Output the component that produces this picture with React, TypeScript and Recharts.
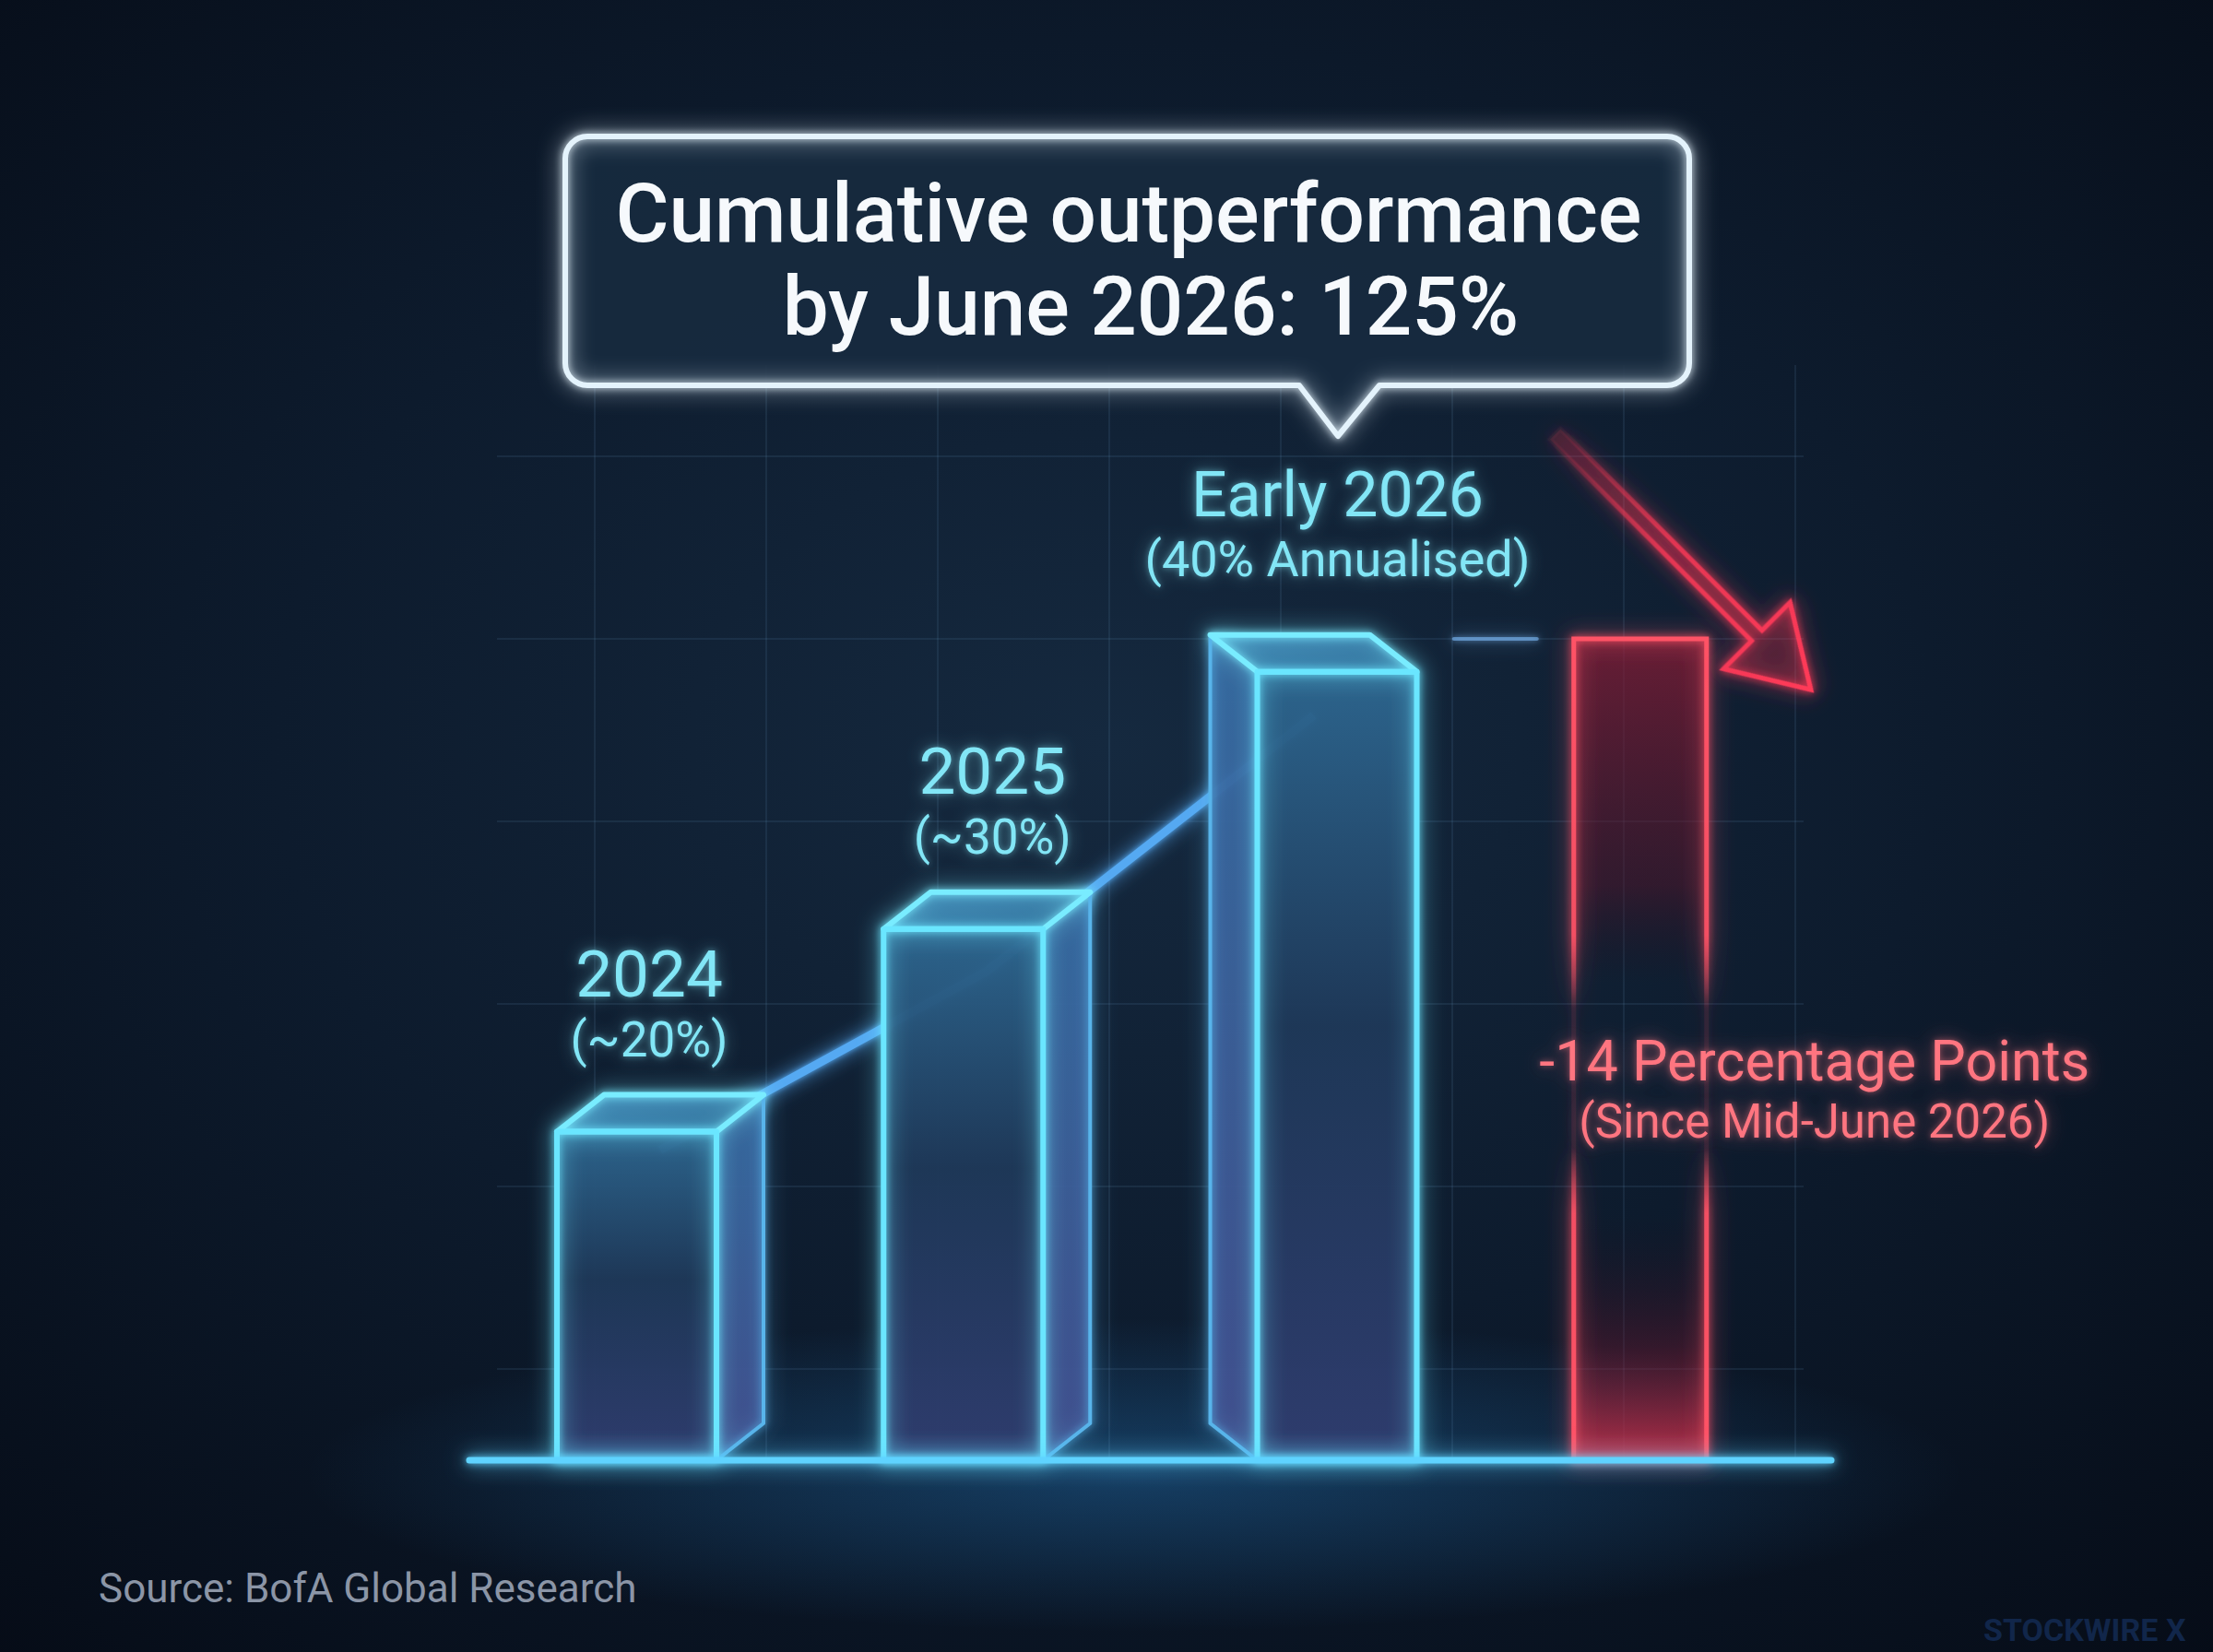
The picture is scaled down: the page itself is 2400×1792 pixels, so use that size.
import React from 'react';
import { ComposedChart, Bar, Line, XAxis, YAxis, CartesianGrid, ReferenceLine, LabelList } from 'recharts';

// ---------- data ----------
const periods = ['2024', '2025', 'Early 2026', 'Mid-June 2026'];
const headline = ['2024', '2025', 'Early 2026', '-14 Percentage Points'];
const subline = ['(~20%)', '(~30%)', '(40% Annualised)', '(Since Mid-June 2026)'];
const barValues = [18, 29.1, 43.2, 45];
const trendValues: (number | null)[] = [17, 26.8, 40.8, null];
const gridTicks = [5, 15, 25, 35, 45, 55];
const titleLines = ['Cumulative outperformance', 'by June 2026: 125%'];
const sourceText = 'Source: BofA Global Research';
const watermarkText = 'STOCKWIRE X';

const data = periods.map((period, i) => ({ period, value: barValues[i], trend: trendValues[i] }));

// ---------- layout / style ----------
const W = 2400;
const H = 1792;
const DX = 51;
const DY = 40;
const FONT = 'Roboto, "Noto Sans", "DejaVu Sans", sans-serif';
const CYAN_TEXT = '#82e6f6';
const RED_TEXT = '#ff7480';

function idxOf(props: any): number {
  if (typeof props.index === 'number') return props.index;
  const p = props.payload && props.payload.period;
  const i = periods.indexOf(p);
  if (i >= 0) return i;
  return barValues.indexOf(props.value);
}

function pts(arr: number[][]) {
  return arr.map((p) => p.join(',')).join(' ');
}

function Bar3D(props: any) {
  const { x, y, width, height } = props;
  if (x == null || y == null || !isFinite(height)) return null;
  const index = idxOf(props);
  const bottom = y + height;

  if (index === 3) {
    const cx = x + width / 2;
    const rw = 144;
    const rx = cx - rw / 2;
    return (
      <g>
        <line x1={rx - 130} x2={rx - 40} y1={y} y2={y} stroke="#7fc0ff" strokeWidth={4} strokeOpacity={0.55} strokeLinecap="round" filter="url(#glowBlue)" />
        <rect x={rx} y={y} width={rw} height={height} fill="url(#redFill)" />
        <rect x={rx} y={y} width={rw} height={height} fill="none" stroke="url(#redStroke)" strokeWidth={5} filter="url(#glowRed)" />
        <g transform={`translate(${cx - 92}, ${y - 222}) rotate(45)`}>
          <polygon
            points="0,-8 309,-8 309,-51 392,0 309,51 309,8 0,8"
            fill="rgba(255,40,70,0.10)"
            stroke="url(#arrowStroke)"
            strokeWidth={5}
            strokeLinejoin="miter"
            filter="url(#glowRed)"
          />
        </g>
      </g>
    );
  }

  const left = index === 2;
  const fw = width - DX;
  const fx = left ? x + DX : x;
  let top: number[][];
  let side: number[][];
  if (!left) {
    top = [[fx, y], [fx + fw, y], [fx + fw + DX, y - DY], [fx + DX, y - DY]];
    side = [[fx + fw, y], [fx + fw + DX, y - DY], [fx + fw + DX, bottom - DY], [fx + fw, bottom]];
  } else {
    top = [[fx, y], [fx + fw, y], [fx + fw - DX, y - DY], [fx - DX, y - DY]];
    side = [[fx, y], [fx - DX, y - DY], [fx - DX, bottom - DY], [fx, bottom]];
  }
  return (
    <g>
      <polygon points={pts(side)} fill="url(#sideFill)" />
      <polygon points={pts(top)} fill="url(#topFill)" />
      <rect x={fx} y={y} width={fw} height={height} fill="url(#frontFill)" />
      <g filter="url(#glowCyan)" fill="none" strokeLinejoin="round">
        <polygon points={pts(side)} stroke="#58b4ea" strokeWidth={4} />
        <polygon points={pts(top)} stroke="#79ecff" strokeWidth={6} />
        <rect x={fx} y={y} width={fw} height={height} stroke="#6ae6ff" strokeWidth={6} />
      </g>
    </g>
  );
}

function BarLabel(props: any) {
  const { x, y, width, height } = props;
  if (x == null || y == null) return null;
  const index = idxOf(props);
  const cx = x + width / 2;
  if (index === 3) {
    const mid = y + height / 2;
    return (
      <g filter="url(#glowRedText)" fontFamily={FONT} textAnchor="middle" fill={RED_TEXT}>
        <text x={cx + 189} y={mid + 33} fontSize={61}>{headline[3]}</text>
        <text x={cx + 189} y={mid + 95} fontSize={51}>{subline[3]}</text>
      </g>
    );
  }
  const lift = index === 2 ? 22 : 0;
  const lx = cx + (index === 2 ? 26 : index === 0 ? -12 : 6);
  return (
    <g filter="url(#glowText)" fontFamily={FONT} textAnchor="middle" fill={CYAN_TEXT}>
      <text x={lx} y={y - 147 - lift} fontSize={index === 2 ? 68 : 71}>{headline[index]}</text>
      <text x={lx} y={y - 82 - lift} fontSize={index === 2 ? 54 : 53}>{subline[index]}</text>
    </g>
  );
}

function Baseline(props: any) {
  const { x1, y1, x2, y2 } = props;
  if (x1 == null) return null;
  return (
    <line x1={x1 - 30} y1={y1} x2={x2 + 30} y2={y2} stroke="#5fd3ff" strokeWidth={7} strokeLinecap="round" filter="url(#glowCyan)" />
  );
}

function Defs() {
  const glow = (id: string, s1: number, s2: number, a: number = 1) => (
    <filter id={id} filterUnits="userSpaceOnUse" x={-600} y={-600} width={3600} height={3000}>
      <feGaussianBlur in="SourceGraphic" stdDeviation={s1} result="b1" />
      <feComponentTransfer in="b1" result="b1a">
        <feFuncA type="linear" slope={a} />
      </feComponentTransfer>
      <feGaussianBlur in="SourceGraphic" stdDeviation={s2} result="b2" />
      <feComponentTransfer in="b2" result="b2a">
        <feFuncA type="linear" slope={a} />
      </feComponentTransfer>
      <feMerge>
        <feMergeNode in="b1a" />
        <feMergeNode in="b2a" />
        <feMergeNode in="SourceGraphic" />
      </feMerge>
    </filter>
  );
  return (
    <defs>
      {glow('glowCyan', 12, 4)}
      {glow('glowBlue', 10, 3)}
      {glow('glowRed', 12, 4)}
      {glow('glowWhite', 12, 4)}
      {glow('glowText', 9, 3, 0.45)}
      {glow('glowRedText', 10, 3, 0.5)}
      <radialGradient id="bgGrad" cx="50%" cy="45%" r="75%">
        <stop offset="0" stopColor="#15293f" />
        <stop offset="0.5" stopColor="#0d1b2d" />
        <stop offset="1" stopColor="#060c17" />
      </radialGradient>
      <radialGradient id="floorGlow" cx="50%" cy="50%" r="50%">
        <stop offset="0" stopColor="#2a8fe0" stopOpacity={0.32} />
        <stop offset="1" stopColor="#2a8fe0" stopOpacity={0} />
      </radialGradient>
      <linearGradient id="frontFill" x1="0" y1="0" x2="0" y2="1">
        <stop offset="0" stopColor="#2d668f" stopOpacity={0.97} />
        <stop offset="0.45" stopColor="#1e3858" stopOpacity={0.97} />
        <stop offset="1" stopColor="#2f3c6e" stopOpacity={0.97} />
      </linearGradient>
      <linearGradient id="topFill" x1="0" y1="0" x2="1" y2="1">
        <stop offset="0" stopColor="#3d84b2" />
        <stop offset="1" stopColor="#2c6590" />
      </linearGradient>
      <linearGradient id="sideFill" x1="0" y1="0" x2="0" y2="1">
        <stop offset="0" stopColor="#356aa0" stopOpacity={0.95} />
        <stop offset="1" stopColor="#414c8c" stopOpacity={0.95} />
      </linearGradient>
      <linearGradient id="redFill" x1="0" y1="0" x2="0" y2="1">
        <stop offset="0" stopColor="#8e1c36" stopOpacity={0.7} />
        <stop offset="0.3" stopColor="#5a1328" stopOpacity={0.45} />
        <stop offset="0.42" stopColor="#2a0a18" stopOpacity={0} />
        <stop offset="0.7" stopColor="#2a0a18" stopOpacity={0} />
        <stop offset="0.86" stopColor="#7a1830" stopOpacity={0.35} />
        <stop offset="1" stopColor="#d6304a" stopOpacity={0.85} />
      </linearGradient>
      <linearGradient id="redStroke" x1="0" y1="0" x2="0" y2="1">
        <stop offset="0" stopColor="#ff5266" stopOpacity={1} />
        <stop offset="0.36" stopColor="#ff5266" stopOpacity={0.9} />
        <stop offset="0.45" stopColor="#ff5266" stopOpacity={0.1} />
        <stop offset="0.62" stopColor="#ff5266" stopOpacity={0.1} />
        <stop offset="0.7" stopColor="#ff5266" stopOpacity={0.9} />
        <stop offset="1" stopColor="#ff5266" stopOpacity={1} />
      </linearGradient>
      <linearGradient id="arrowStroke" gradientUnits="userSpaceOnUse" x1={0} y1={0} x2={392} y2={0}>
        <stop offset="0" stopColor="#ff3a58" stopOpacity={0.05} />
        <stop offset="0.45" stopColor="#ff3a58" stopOpacity={0.75} />
        <stop offset="1" stopColor="#ff3a58" stopOpacity={1} />
      </linearGradient>
    </defs>
  );
}

const titleBoxPath = (() => {
  const l = 613, t = 148, r = 1832, b = 418, rad = 24;
  const pL = 1409, pR = 1496, tipX = 1451, tipY = 473;
  return [
    `M ${l + rad} ${t}`,
    `H ${r - rad}`,
    `A ${rad} ${rad} 0 0 1 ${r} ${t + rad}`,
    `V ${b - rad}`,
    `A ${rad} ${rad} 0 0 1 ${r - rad} ${b}`,
    `H ${pR}`,
    `L ${tipX} ${tipY}`,
    `L ${pL} ${b}`,
    `H ${l + rad}`,
    `A ${rad} ${rad} 0 0 1 ${l} ${b - rad}`,
    `V ${t + rad}`,
    `A ${rad} ${rad} 0 0 1 ${l + rad} ${t}`,
    'Z',
  ].join(' ');
})();

export default function App() {
  return (
    <div style={{ position: 'absolute', left: 0, top: 0, width: W, height: H, overflow: 'hidden', background: '#0a1524' }}>
      <svg width={W} height={H} style={{ position: 'absolute', left: 0, top: 0 }}>
        <Defs />
        <rect x={0} y={0} width={W} height={H} fill="url(#bgGrad)" />
        <ellipse cx={1230} cy={1600} rx={900} ry={170} fill="url(#floorGlow)" />
      </svg>

      <div style={{ position: 'absolute', left: 0, top: 0 }}>
        <ComposedChart
          width={W}
          height={H}
          data={data}
          margin={{ top: 396, right: 444, bottom: 208, left: 539 }}
        >
          <CartesianGrid
            stroke="#6f9cc8"
            strokeOpacity={0.12}
            strokeWidth={2}
            horizontalValues={gridTicks}
            verticalCoordinatesGenerator={() => [645, 831, 1017, 1203, 1389, 1575, 1761, 1947]}
          />
          <XAxis dataKey="period" type="category" hide />
          <YAxis type="number" domain={[0, 60]} ticks={gridTicks} hide />
          <Line
            dataKey="trend"
            type="linear"
            stroke="#55a9f2"
            strokeWidth={9}
            dot={false}
            activeDot={false}
            connectNulls={false}
            isAnimationActive={false}
            filter="url(#glowBlue)"
            zIndex={250}
          />
          <Bar dataKey="value" barSize={224} isAnimationActive={false} shape={(p: any) => <Bar3D {...p} />}>
            <LabelList dataKey="value" isAnimationActive={false} content={(p: any) => <BarLabel {...p} />} />
          </Bar>
          <ReferenceLine y={0} stroke="#5fd3ff" strokeWidth={7} shape={(p: any) => <Baseline {...p} />} />
        </ComposedChart>
      </div>

      <svg width={W} height={H} style={{ position: 'absolute', left: 0, top: 0, pointerEvents: 'none' }}>
        <path d={titleBoxPath} fill="#172a3f" fillOpacity={0.92} />
        <path d={titleBoxPath} fill="none" stroke="#e4f3fc" strokeWidth={6} strokeLinejoin="round" filter="url(#glowWhite)" />
        <g fontFamily={FONT} fontWeight={500} fill="#f6f9fc" textAnchor="middle">
          <text x={1224} y={262} fontSize={89}>{titleLines[0]}</text>
          <text x={1248} y={363} fontSize={89}>{titleLines[1]}</text>
        </g>
        <text x={107} y={1738} fontFamily={FONT} fontSize={44} fill="#8b95a6">{sourceText}</text>
        <text x={2151} y={1780} fontFamily={FONT} fontSize={34} fontWeight={700} fill="#11264a">{watermarkText}</text>
      </svg>
    </div>
  );
}
